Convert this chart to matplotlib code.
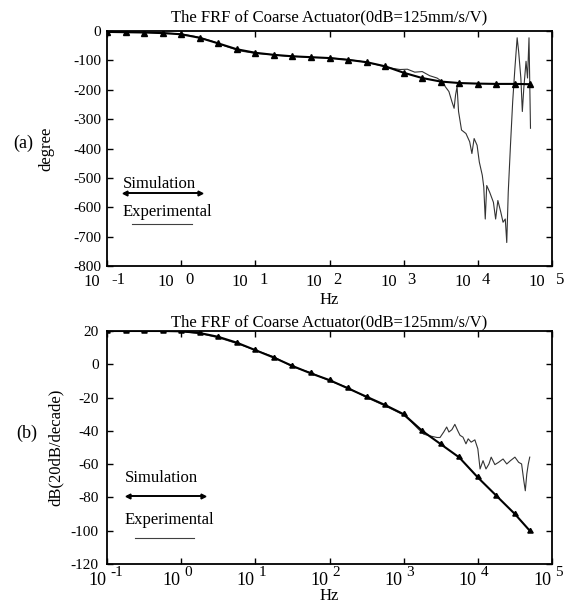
import numpy as np
import matplotlib
matplotlib.use('Agg')
import matplotlib.pyplot as plt
from matplotlib.ticker import NullFormatter, FixedLocator, FixedFormatter, NullLocator
from matplotlib.offsetbox import AnchoredOffsetbox, VPacker, TextArea, DrawingArea
from matplotlib.lines import Line2D

plt.rcParams['font.family'] = ['Liberation Serif', 'DejaVu Serif']
plt.rcParams['axes.unicode_minus'] = False

# simulation, log10(Hz)
sim_logf = [-1, -0.75, -0.5, -0.25, 0, 0.25, 0.5, 0.75, 1, 1.25, 1.5, 1.75,
            2, 2.25, 2.5, 2.75, 3, 3.25, 3.5, 3.75, 4, 4.25, 4.5, 4.7]
sim_phase = [-3, -4, -5, -7, -11, -23, -42, -62, -74, -81, -86, -89,
             -92, -98, -106, -120, -142, -160, -172, -177, -179, -180, -180, -181]
sim_mag = [20, 20, 20, 20, 19.8, 18.8, 16.5, 13, 8.5, 4, -1, -5.5,
           -9.5, -14.5, -19.5, -24.5, -30, -40, -48, -56, -68, -79, -90, -100]

# experimental phase
exp_phase_logf = [-1, -0.8, -0.6, -0.4, -0.2, 0, 0.2, 0.4, 0.6, 0.8, 1.0, 1.2, 1.4,
                  1.6, 1.8, 2.0, 2.2, 2.4, 2.6, 2.75, 2.85, 2.95, 3.05, 3.15, 3.25,
                  3.35, 3.45, 3.54, 3.56, 3.61, 3.65, 3.68, 3.70, 3.72, 3.74, 3.78,
                  3.84, 3.89, 3.92, 3.95, 3.99, 4.02, 4.06, 4.08, 4.10, 4.12, 4.16,
                  4.21, 4.24, 4.27, 4.31, 4.34, 4.37, 4.39, 4.41, 4.44, 4.47, 4.50,
                  4.53, 4.55, 4.58, 4.60, 4.62, 4.65, 4.67, 4.69, 4.71]
exp_phase = [-2, -3, -4, -5, -7, -10, -19, -33, -52, -68, -76, -80, -85,
             -87, -90, -91, -96, -102, -112, -122, -127, -131, -130, -140, -138,
             -152, -160, -176, -189, -206, -240, -263, -217, -189, -274, -337,
             -349, -377, -417, -366, -389, -446, -491, -531, -640, -526, -549,
             -583, -640, -577, -617, -651, -640, -720, -549, -389, -240, -126,
             -23, -69, -160, -274, -194, -103, -160, -23, -331]

# experimental magnitude
exp_mag_logf = [-1, -0.5, 0, 0.25, 0.5, 0.75, 1, 1.25, 1.5, 1.75, 2, 2.25, 2.5,
                2.75, 3.0, 3.1, 3.2, 3.27, 3.35, 3.45, 3.49, 3.54, 3.58, 3.61,
                3.65, 3.69, 3.73, 3.76, 3.80, 3.84, 3.87, 3.91, 3.96, 4.0, 4.03,
                4.07, 4.11, 4.15, 4.18, 4.23, 4.28, 4.34, 4.39, 4.44, 4.50, 4.55,
                4.59, 4.62, 4.64, 4.66, 4.68, 4.70]
exp_mag = [20.2, 20, 19.7, 18.5, 16, 12.5, 8.5, 4.5, -1.5, -5, -10, -14, -20,
           -25, -30.5, -34.5, -39, -42, -43, -44, -44, -40.7, -37.7, -40.7,
           -39.3, -36.1, -40, -42.7, -43.8, -47.8, -44.8, -46.8, -45.4, -50.8, -62.9,
           -57.9, -62.9, -59.9, -55.8, -60.3, -58.9, -56.9, -59.9, -57.9, -55.8, -58.9,
           -59.9, -70, -76, -66, -60, -55.8]

decades = [-1, 0, 1, 2, 3, 4, 5]
title = 'The FRF of Coarse Actuator(0dB=125mm/s/V)'

fig = plt.figure(figsize=(5.75, 6.05), dpi=100)
ax1 = fig.add_axes([0.1861, 0.5603, 0.7739, 0.3884])
ax2 = fig.add_axes([0.1861, 0.0678, 0.7739, 0.3851])


def setup(ax, yticks, ypad):
    ax.set_xscale('log')
    ax.set_xlim(0.1, 1e5)
    ax.set_ylim(yticks[0], yticks[-1])
    ax.xaxis.set_major_locator(FixedLocator([10.0 ** e for e in decades]))
    ax.xaxis.set_minor_locator(NullLocator())
    ax.xaxis.set_major_formatter(NullFormatter())
    ax.yaxis.set_major_locator(FixedLocator(yticks))
    ax.yaxis.set_major_formatter(FixedFormatter([str(v) for v in yticks]))
    ax.tick_params(direction='in', length=4, width=1, top=True, right=True,
                   labelsize=11, pad=ypad)
    for s in ax.spines.values():
        s.set_linewidth(1.3)


def decade_labels(ax, ten_dx, ten_dy, exp_dx, exp_dy, ten_size, exp_size):
    for e in decades:
        ax.annotate('10', xy=(10.0 ** e, 0), xycoords=('data', 'axes fraction'),
                    xytext=(ten_dx, ten_dy), textcoords='offset pixels',
                    ha='right', va='center', fontsize=ten_size)
        ax.annotate(str(e), xy=(10.0 ** e, 0), xycoords=('data', 'axes fraction'),
                    xytext=(exp_dx, exp_dy), textcoords='offset pixels',
                    ha='left', va='center', fontsize=exp_size)


def legend_box(ax, anchor, sep, sim_h, sim_y):
    tp = dict(fontsize=12)
    sim_da = DrawingArea(58, sim_h, 0, 0)
    sim_da.add_artist(Line2D([2, 56], [sim_y, sim_y], color='black', lw=1.4))
    sim_da.add_artist(Line2D([2], [sim_y], marker='<', ms=3.5, color='black'))
    sim_da.add_artist(Line2D([56], [sim_y], marker='>', ms=3.5, color='black'))
    exp_da = DrawingArea(58, 5, 0, 0)
    exp_da.add_artist(Line2D([7, 50], [2.5, 2.5], color='0.25', lw=0.8))
    box = VPacker(children=[TextArea('Simulation', textprops=tp), sim_da,
                            TextArea('Experimental', textprops=tp), exp_da],
                  align='left', pad=0, sep=sep)
    ab = AnchoredOffsetbox(loc='upper left', child=box, pad=0, borderpad=0,
                           frameon=False, bbox_to_anchor=anchor,
                           bbox_transform=ax.transAxes)
    ax.add_artist(ab)


# (a) phase
setup(ax1, list(range(-800, 1, 100)), 4)
ax1.plot(10.0 ** np.array(exp_phase_logf), exp_phase, color='0.2', lw=0.8)
ax1.plot(10.0 ** np.array(sim_logf), sim_phase, color='black', lw=1.5,
         marker='^', ms=4)
ax1.set_title(title, fontsize=12, pad=7)
ax1.set_xlabel('Hz', fontsize=12, labelpad=15)
ax1.set_ylabel('degree', fontsize=12)
ax1.yaxis.set_label_coords(-0.119, 0.5)
decade_labels(ax1, -7, -16, 4, -14, 12, 12)
legend_box(ax1, (0.035, 0.385), 0, 9, 8)

# (b) magnitude
setup(ax2, list(range(-120, 21, 20)), 6)
ax2.plot(10.0 ** np.array(exp_mag_logf), exp_mag, color='0.2', lw=0.8)
ax2.plot(10.0 ** np.array(sim_logf), sim_mag, color='black', lw=1.5,
         marker=(3, 0, -120), ms=4.5)
ax2.set_title(title, fontsize=12, pad=3)
ax2.set_xlabel('Hz', fontsize=12, labelpad=11)
ax2.set_ylabel('dB(20dB/decade)', fontsize=12)
ax2.yaxis.set_label_coords(-0.097, 0.5)
decade_labels(ax2, -1, -17, 3, -9, 13, 11)
legend_box(ax2, (0.04, 0.405), 5, 9, 6.5)

fig.text(23 / 575, 1 - 143 / 605, '(a)', ha='center', va='center', fontsize=13)
fig.text(27 / 575, 1 - 433 / 605, '(b)', ha='center', va='center', fontsize=13)

fig.savefig('out.png', dpi=100)
